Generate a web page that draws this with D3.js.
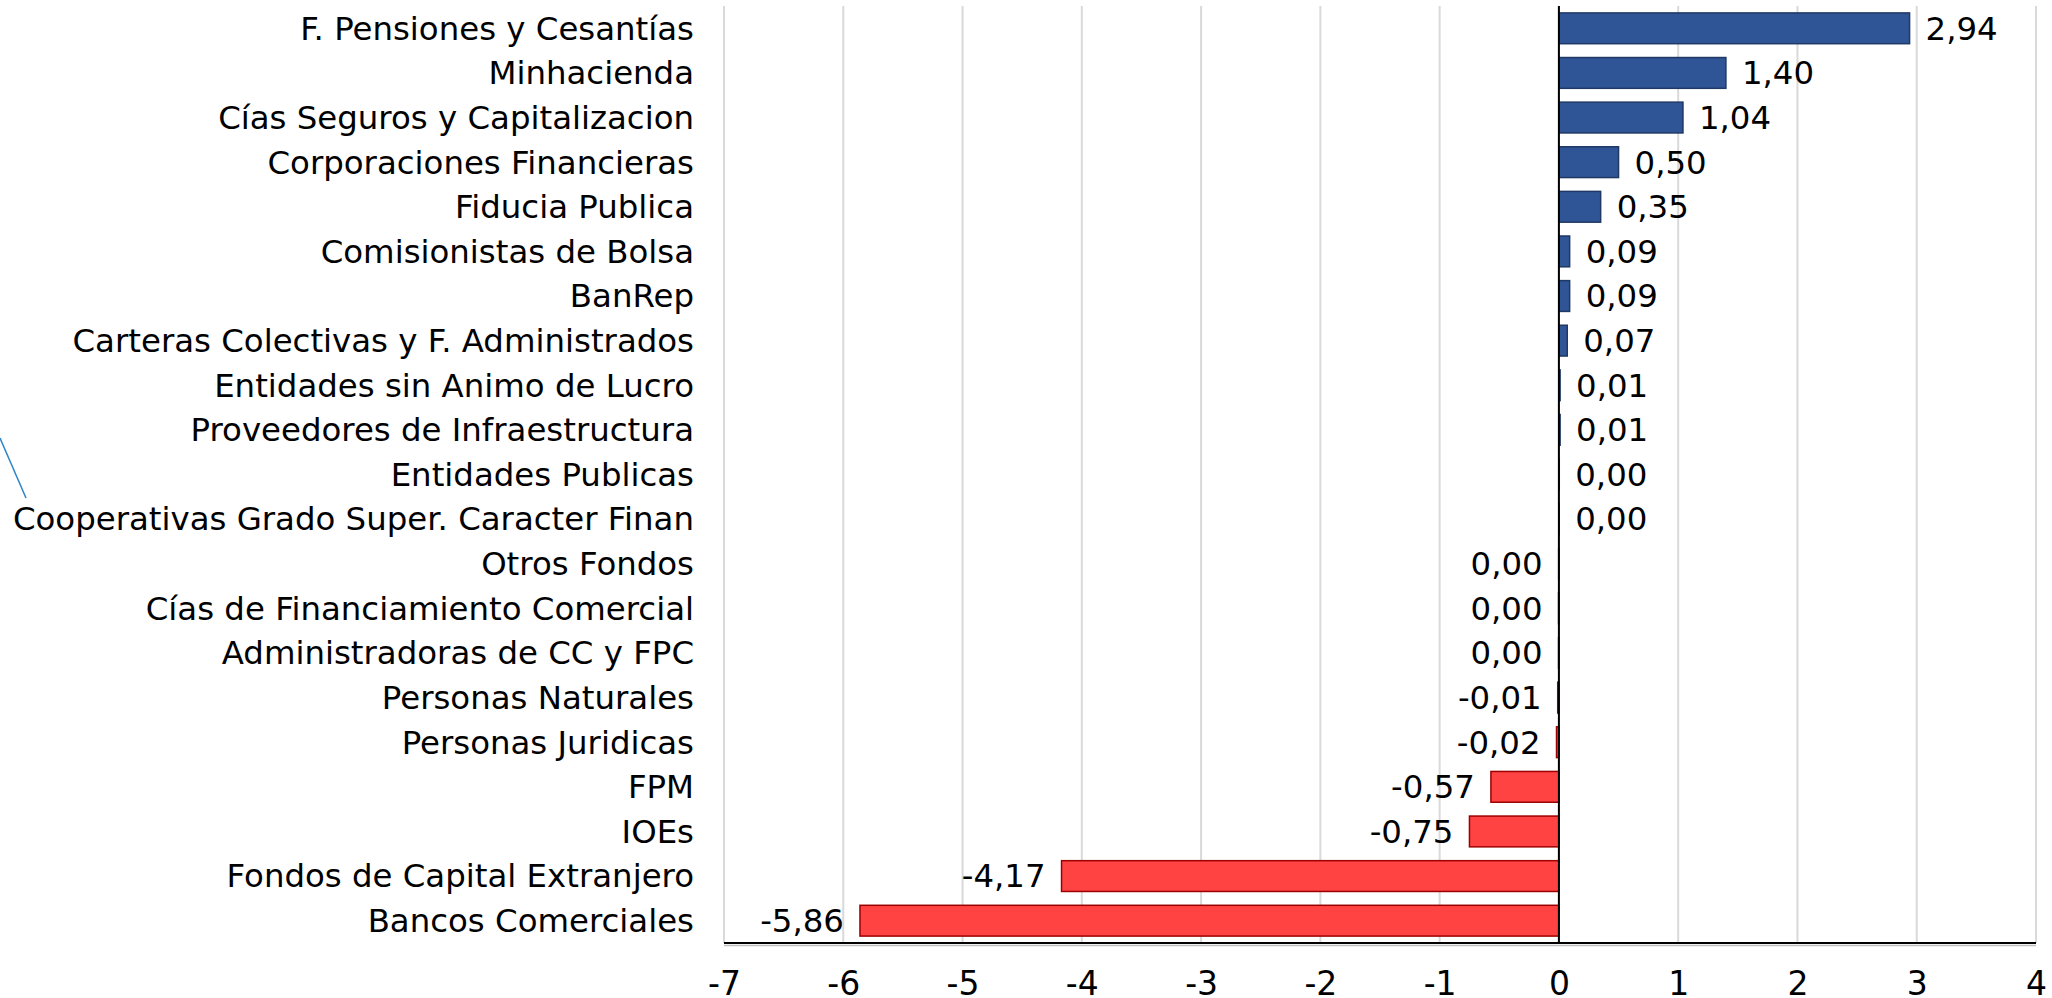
<!DOCTYPE html>
<html>
<head>
<meta charset="utf-8">
<script src="https://cdn.jsdelivr.net/npm/d3@7"></script>
<style>
  body { margin: 0; background: #fff; }
  svg { display: block; }
  text { font-family: "DejaVu Sans", Verdana, sans-serif; fill: #000; }
</style>
</head>
<body>
<div id="chart"></div>
<script>
// Categories, top to bottom
var categories = [
    "F. Pensiones y Cesantías",
    "Minhacienda",
    "Cías Seguros y Capitalizacion",
    "Corporaciones Financieras",
    "Fiducia Publica",
    "Comisionistas de Bolsa",
    "BanRep",
    "Carteras Colectivas y F. Administrados",
    "Entidades sin Animo de Lucro",
    "Proveedores de Infraestructura",
    "Entidades Publicas",
    "Cooperativas Grado Super. Caracter Finan",
    "Otros Fondos",
    "Cías de Financiamiento Comercial",
    "Administradoras de CC y FPC",
    "Personas Naturales",
    "Personas Juridicas",
    "FPM",
    "IOEs",
    "Fondos de Capital Extranjero",
    "Bancos Comerciales"
];

// Net values (tiny values keep their sign, shown as 0,00)
var values = [
    2.94, 1.40, 1.04, 0.50, 0.35, 0.09, 0.09, 0.07, 0.01, 0.01, 0.003,
    0.002, -0.002, -0.003, -0.003, -0.01, -0.02, -0.57, -0.75, -4.17, -5.86
];

var xTicks = [-7, -6, -5, -4, -3, -2, -1, 0, 1, 2, 3, 4];

var data = categories.map(function (c, i) { return { name: c, value: values[i] }; });

var width = 2052, height = 998;
var margin = { top: 6, right: 16, bottom: 55, left: 724 };
var fontSize = "32.4px";

var svg = d3.select("#chart").append("svg")
    .attr("width", width)
    .attr("height", height);

var x = d3.scaleLinear()
    .domain([-7, 4])
    .range([margin.left, width - margin.right]);

var y = d3.scaleBand()
    .domain(categories)
    .range([margin.top, height - margin.bottom])
    .paddingInner(0.31)
    .paddingOuter(0.155);

var fmt = function (v) {
    var s = Math.abs(v) < 0.005 ? "0.00" : v.toFixed(2);
    return s.replace(".", ",");
};

// gridlines
svg.append("g")
    .selectAll("line")
    .data(xTicks)
    .enter().append("line")
    .attr("x1", function (d) { return x(d); })
    .attr("x2", function (d) { return x(d); })
    .attr("y1", margin.top)
    .attr("y2", height - margin.bottom)
    .attr("stroke", "#d9d9d9")
    .attr("stroke-width", 2);

// bars
svg.append("g")
    .selectAll("rect")
    .data(data)
    .enter().append("rect")
    .attr("x", function (d) { return x(Math.min(0, d.value)); })
    .attr("y", function (d) { return y(d.name); })
    .attr("width", function (d) { return Math.abs(x(d.value) - x(0)); })
    .attr("height", y.bandwidth())
    .attr("fill", function (d) { return d.value >= 0 ? "#2f5597" : "#ff4343"; })
    .attr("stroke", function (d) { return d.value >= 0 ? "#1f3864" : "#9c0000"; })
    .attr("stroke-width", 1.5);

// zero line
svg.append("line")
    .attr("x1", x(0)).attr("x2", x(0))
    .attr("y1", margin.top).attr("y2", height - margin.bottom)
    .attr("stroke", "#000")
    .attr("stroke-width", 2);

// faint shadow under the axis line
svg.append("line")
    .attr("x1", x(-7)).attr("x2", x(4))
    .attr("y1", height - margin.bottom + 2.5).attr("y2", height - margin.bottom + 2.5)
    .attr("stroke", "#bfbfbf")
    .attr("stroke-width", 1.5);

// bottom axis
var xAxis = svg.append("g")
    .attr("transform", "translate(0," + (height - margin.bottom) + ")")
    .call(d3.axisBottom(x).tickValues(xTicks).tickSize(0).tickPadding(29)
        .tickFormat(function (d) { return d; }));
xAxis.select(".domain").attr("stroke", "#000").attr("stroke-width", 2)
    .attr("d", "M" + x(-7) + ",0H" + x(4));
xAxis.selectAll("text")
    .style("font-family", "\"DejaVu Sans\", Verdana, sans-serif")
    .style("font-size", "33px")
    .attr("fill", "#000");

// category labels
svg.append("g")
    .selectAll("text")
    .data(data)
    .enter().append("text")
    .attr("x", 694)
    .attr("y", function (d) { return y(d.name) + y.bandwidth() / 2; })
    .attr("dy", "0.35em")
    .attr("text-anchor", "end")
    .style("font-size", fontSize)
    .text(function (d) { return d.name; });

// value labels
svg.append("g")
    .selectAll("text")
    .data(data)
    .enter().append("text")
    .attr("x", function (d) { return d.value >= 0 ? x(d.value) + 16 : x(d.value) - 16; })
    .attr("y", function (d) { return y(d.name) + y.bandwidth() / 2; })
    .attr("dy", "0.35em")
    .attr("text-anchor", function (d) { return d.value >= 0 ? "start" : "end"; })
    .style("font-size", fontSize)
    .text(function (d) { return fmt(d.value); });

// stray leader line at left edge
svg.append("line")
    .attr("x1", 0).attr("y1", 438)
    .attr("x2", 26).attr("y2", 498)
    .attr("stroke", "#2e86c9")
    .attr("stroke-width", 1.5);
</script>
</body>
</html>
